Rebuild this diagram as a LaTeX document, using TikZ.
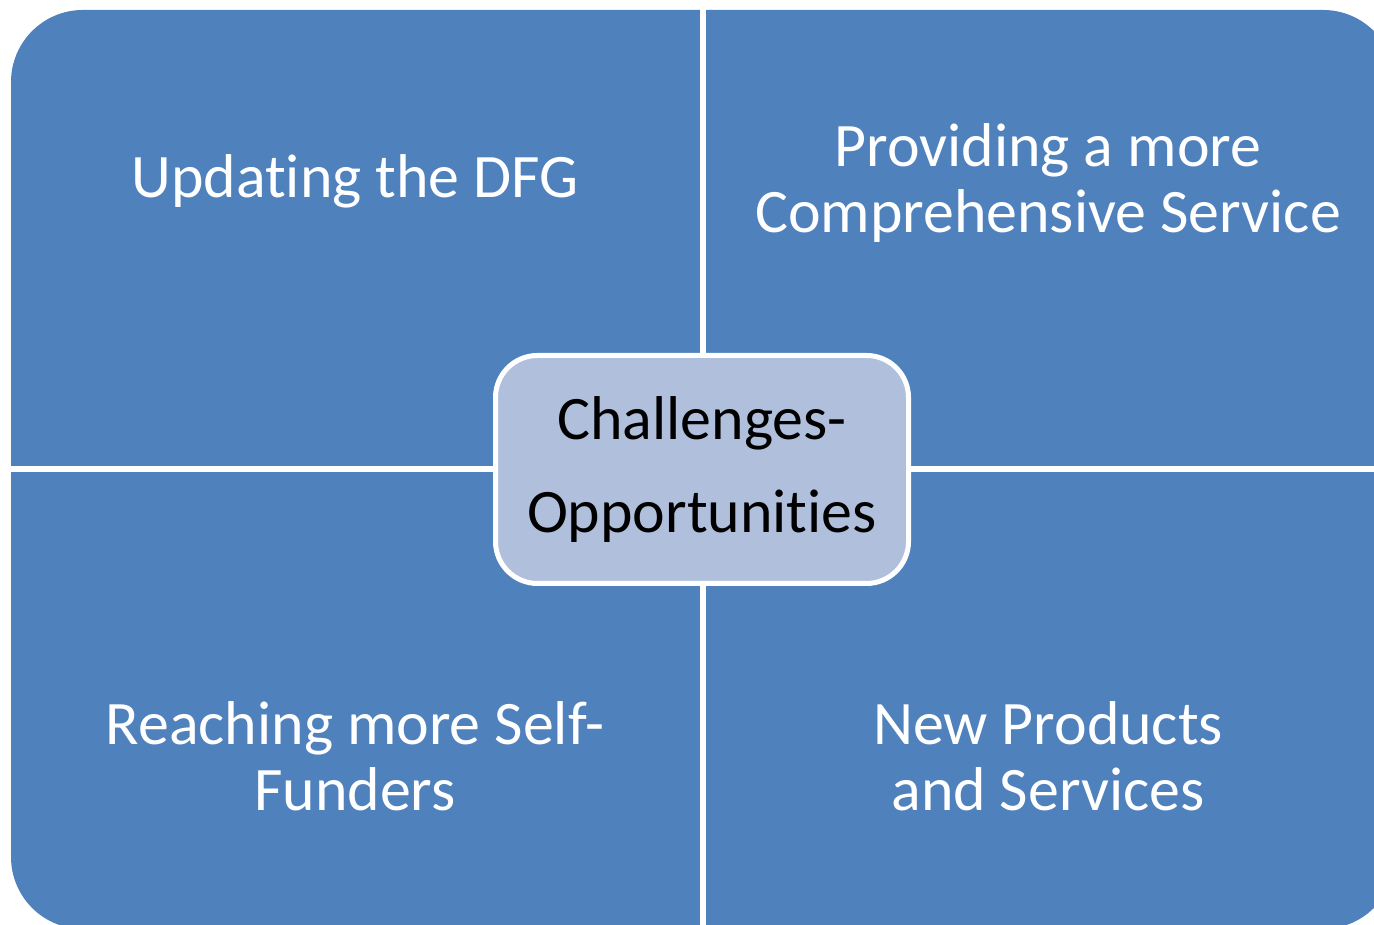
\documentclass[tikz,border=0pt]{standalone}
\usepackage{fontspec}
\setmainfont{Carlito}[RawFeature={-liga;-clig;-calt;-dlig}]
\definecolor{quadblue}{HTML}{4F81BD}
\definecolor{hubblue}{HTML}{B0C0DC}
\tikzset{
  quadtext/.style={text=white, align=center, anchor=base,
    font=\fontsize{17.6}{19}\selectfont},
  hubtext/.style={draw=white, line width=0.05cm, fill=hubblue, rounded corners=0.42cm,
    minimum width=4.13cm, minimum height=2.28cm, align=center,
    font=\fontsize{17.6}{26.5}\selectfont}
}
\begin{document}
\begin{tikzpicture}
                \useasboundingbox (0,0) rectangle (13.74,9.25);
                \clip (0,0) rectangle (13.74,9.25);

                % Drawing the four quadrants
                \fill [quadblue, rounded corners=0.72cm] (0.11,-0.04) rectangle (13.95,9.15);%

                % Drawing the gaps between quadrants
                \draw [white, line width=0.06cm] (7.03,9.30) -- (7.03,-0.10);%
                \draw [white, line width=0.06cm] (0.00,4.56) -- (14.00,4.56);%

                % Marking the quadrant texts (base = last line)
                \node [quadtext] (dfg) at (3.55,7.27) {Updating the DFG};%
                \node [quadtext] (service) at (10.48,6.92) {Providing a more\\Comprehensive Service};%
                \node [quadtext] (funders) at (3.55,1.14) {Reaching more Self-\\Funders};%
                \node [quadtext] (products) at (10.48,1.14) {New Products\\and Services};%

                % Marking the centre box
                \node [hubtext] (hub) at (7.02,4.555) {Challenges-\\Opportunities};%
\end{tikzpicture}
\end{document}
